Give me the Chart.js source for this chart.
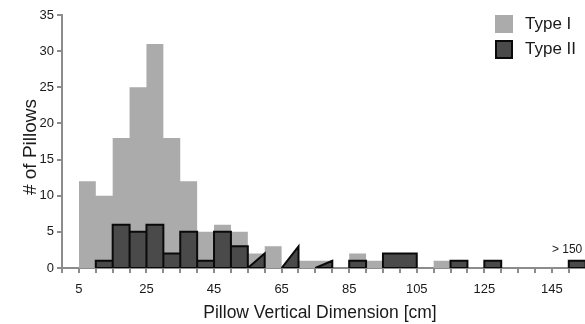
<!DOCTYPE html>
<html>
<head>
<meta charset="utf-8">
<script src="https://cdn.jsdelivr.net/npm/chart.js@4.4.0/dist/chart.umd.min.js"></script>
<style>
  html, body { margin: 0; padding: 0; background: #ffffff; overflow: hidden; }
  #wrap { width: 585px; height: 324px; }
</style>
</head>
<body>
<div id="wrap"><canvas id="chart" width="585" height="324"></canvas></div>
<script>
// ---------------- data ----------------
const binStarts = [5, 10, 15, 20, 25, 30, 35, 40, 45, 50, 55, 60, 65, 70, 75, 80, 85, 90, 95, 100, 105, 110, 115, 120, 125, 130, 135, 140, 145, 150];
const binWidth = 5;
const typeICounts  = [12, 10, 18, 25, 31, 18, 12, 5, 6, 5, 2, 3, 0, 1, 1, 0, 2, 1, 0, 0, 0, 1, 0, 0, 0, 0, 0, 0, 0, 0];
const typeIICounts = [0, 1, 6, 5, 6, 2, 5, 1, 5, 3, 2, 0, 3, 0, 1, 0, 1, 0, 2, 2, 0, 0, 1, 0, 1, 0, 0, 0, 0, 1];
// bins that the original drew with a sloped left edge (wedges)
const typeIIRampBins = [55, 65, 75];
const seriesLabels = ['Type I', 'Type II'];
const xLabelValues = [5, 25, 45, 65, 85, 105, 125, 145];
const xTickValues = [0, 5, 10, 15, 20, 25, 30, 35, 40, 45, 50, 55, 60, 65, 70, 75, 80, 85, 90, 95, 100, 105, 110, 115, 120, 125, 130, 135, 140, 145, 150];
const yTickValues = [0, 5, 10, 15, 20, 25, 30, 35];
const xTitle = 'Pillow Vertical Dimension [cm]';
const yTitle = '# of Pillows';
const overflowNote = { text: '> 150', x: 145, y: 2.6 };

// ---------------- styles ----------------
const FONT = "'Liberation Sans', Arial, Helvetica, sans-serif";
const INK = '#1a1a1a';
const AXIS = '#8c8c8c';
const TYPE_I_FILL = '#ababab';
const TYPE_II_FILL = '#4a4a4a';
const TYPE_II_EDGE = '#0a0a0a';

// ---------------- outline builders ----------------
function stepOutline(counts) {
  const pts = [{ x: binStarts[0], y: 0 }];
  counts.forEach((c, i) => {
    pts.push({ x: binStarts[i], y: c });
    pts.push({ x: binStarts[i] + binWidth, y: c });
  });
  pts.push({ x: binStarts[binStarts.length - 1] + binWidth, y: 0 });
  return pts;
}

function barOutline(counts, ramps) {
  const pts = [];
  let i = 0;
  while (i < counts.length) {
    if (!counts[i]) { i++; continue; }
    while (i < counts.length && counts[i]) {
      const lo = binStarts[i];
      const c = counts[i];
      let hi = lo + binWidth;
      while (i + 1 < counts.length && counts[i + 1] === c && !ramps.includes(binStarts[i + 1])) {
        i++;
        hi = binStarts[i] + binWidth;
      }
      if (ramps.includes(lo)) {
        pts.push({ x: lo, y: 0 }, { x: hi, y: c }, { x: hi, y: 0 });
      } else {
        pts.push({ x: lo, y: 0 }, { x: lo, y: c }, { x: hi, y: c }, { x: hi, y: 0 });
      }
      i++;
    }
    pts.push({ x: binStarts[Math.min(i, binStarts.length - 1)], y: null });
  }
  return pts;
}

// bottom edges of the Type II bar groups
function baseEdges(counts) {
  const pts = [];
  let i = 0;
  while (i < counts.length) {
    if (!counts[i]) { i++; continue; }
    const start = binStarts[i];
    while (i < counts.length && counts[i]) i++;
    pts.push({ x: start, y: 0 }, { x: binStarts[i - 1] + binWidth, y: 0 }, { x: binStarts[i - 1] + binWidth, y: null });
  }
  return pts;
}

// ---------------- overlay: legend, note, axis titles ----------------
const overlay = {
  id: 'overlay',
  afterDraw(chart) {
    const { ctx, scales: { x, y } } = chart;
    ctx.save();
    // legend
    const ds = chart.data.datasets;
    ctx.fillStyle = ds[0].backgroundColor;
    ctx.fillRect(495, 15, 18, 18);
    ctx.fillStyle = ds[1].backgroundColor;
    ctx.fillRect(495, 40, 18, 19);
    ctx.strokeStyle = ds[1].borderColor;
    ctx.lineWidth = 2;
    ctx.strokeRect(496, 41, 16, 17);
    ctx.fillStyle = INK;
    ctx.font = `17px ${FONT}`;
    ctx.textAlign = 'left';
    ctx.textBaseline = 'alphabetic';
    ctx.fillText(ds[0].label, 525, 28.5);
    ctx.fillText(ds[1].label, 525, 54);
    // overflow note
    ctx.font = `12px ${FONT}`;
    ctx.textBaseline = 'middle';
    ctx.fillText(overflowNote.text, x.getPixelForValue(overflowNote.x), y.getPixelForValue(overflowNote.y));
    // axis titles
    ctx.textAlign = 'center';
    ctx.textBaseline = 'alphabetic';
    ctx.font = `17.5px ${FONT}`;
    ctx.fillText(xTitle, 320, 318.3);
    ctx.translate(36, 147);
    ctx.rotate(-Math.PI / 2);
    ctx.font = `19px ${FONT}`;
    ctx.fillText(yTitle, 0, 0);
    ctx.restore();
  }
};

// ---------------- chart ----------------
new Chart(document.getElementById('chart'), {
  type: 'line',
  data: {
    datasets: [
      {
        label: seriesLabels[0],
        data: stepOutline(typeICounts),
        backgroundColor: TYPE_I_FILL,
        borderColor: TYPE_I_FILL,
        borderWidth: 0,
        fill: 'origin',
        pointRadius: 0,
        tension: 0,
        order: 3
      },
      {
        label: seriesLabels[1],
        data: barOutline(typeIICounts, typeIIRampBins),
        backgroundColor: TYPE_II_FILL,
        borderColor: TYPE_II_EDGE,
        borderWidth: 2,
        borderJoinStyle: 'miter',
        fill: 'origin',
        pointRadius: 0,
        tension: 0,
        spanGaps: false,
        order: 2
      },
      {
        label: seriesLabels[1] + ' base',
        data: baseEdges(typeIICounts),
        borderColor: TYPE_II_EDGE,
        backgroundColor: 'transparent',
        borderWidth: 2,
        fill: false,
        pointRadius: 0,
        tension: 0,
        spanGaps: false,
        order: 1
      }
    ]
  },
  options: {
    responsive: false,
    animation: false,
    events: [],
    devicePixelRatio: 1,
    layout: { padding: { top: 15, right: 0, bottom: 0, left: 0 } },
    plugins: {
      legend: { display: false },
      tooltip: { enabled: false },
      title: { display: false }
    },
    scales: {
      x: {
        type: 'linear',
        min: 0,
        max: 154.8,
        afterBuildTicks(scale) { scale.ticks = xTickValues.map(v => ({ value: v })); },
        afterFit(scale) { scale.height = 56; },
        ticks: {
          autoSkip: false,
          maxRotation: 0,
          padding: 9,
          color: INK,
          font: { family: FONT, size: 13 },
          callback: (v) => (xLabelValues.includes(v) ? String(v) : '')
        },
        grid: { drawOnChartArea: false, drawTicks: true, tickLength: 5, color: AXIS, lineWidth: 2 },
        border: { display: true, color: AXIS, width: 2 },
        title: { display: false }
      },
      y: {
        type: 'linear',
        min: 0,
        max: 35,
        afterBuildTicks(scale) { scale.ticks = yTickValues.map(v => ({ value: v })); },
        afterFit(scale) { scale.width = 62; },
        ticks: {
          padding: 3,
          color: INK,
          font: { family: FONT, size: 13 }
        },
        grid: { drawOnChartArea: false, drawTicks: true, tickLength: 5, color: AXIS, lineWidth: 2 },
        border: { display: true, color: AXIS, width: 2 },
        title: { display: false }
      }
    }
  },
  plugins: [overlay]
});
</script>
</body>
</html>
